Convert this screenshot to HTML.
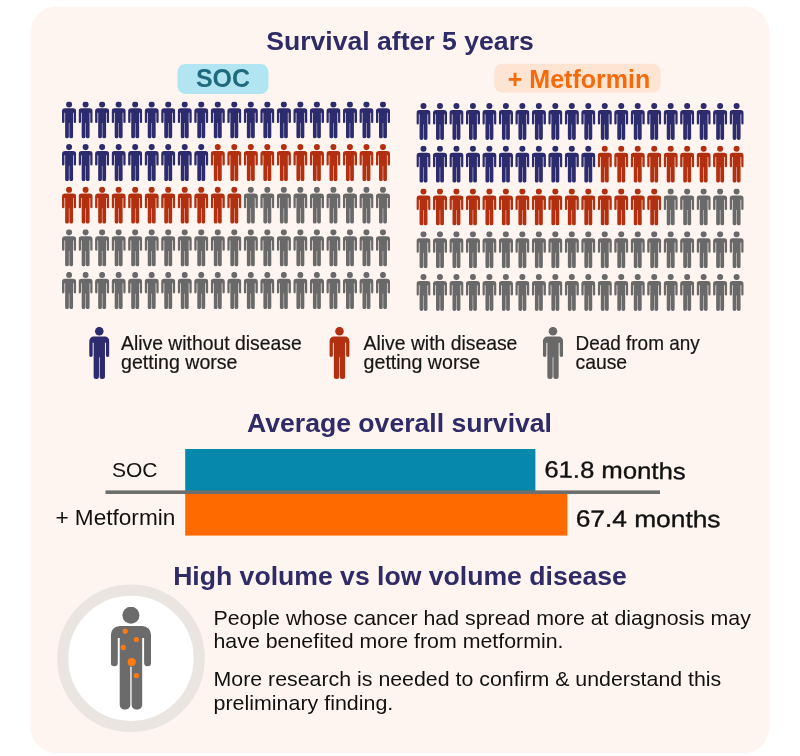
<!DOCTYPE html>
<html lang="en">
<head>
<meta charset="utf-8">
<title>Survival after 5 years</title>
<style>
html,body{margin:0;padding:0;background:#fff;}
body{width:800px;height:756px;overflow:hidden;font-family:"Liberation Sans",sans-serif;}
svg{display:block;}
text{font-family:"Liberation Sans",sans-serif;}
.h{font-weight:bold;font-size:26.6px;fill:#2e2b66;}
.lg{font-size:19.35px;fill:#161616;stroke:#161616;stroke-width:0.2px;}
.bl{font-size:21px;fill:#111;}
.pp{font-size:20.6px;fill:#111;}
</style>
</head>
<body>
<svg width="800" height="756" viewBox="0 0 800 756">
<defs>
<symbol id="p" viewBox="0 0 40.3 103.1" preserveAspectRatio="none">
<circle cx="20.1" cy="8.5" r="8.5"/>
<path d="M0 28.2A9 9 0 0 1 9 19.2H31.3A9 9 0 0 1 40.3 28.2V56.1A3.5 3.5 0 0 1 33.3 56.1V31.3H7V56.1A3.5 3.5 0 0 1 0 56.1Z"/>
<path d="M8.9 25H31.4V98.1A5 5 0 0 1 26.4 103.1H25.8A5 5 0 0 1 20.8 98.1V60H19.5V98.1A5 5 0 0 1 14.5 103.1H13.9A5 5 0 0 1 8.9 98.1Z"/>
</symbol>
</defs>
<rect x="30.4" y="6.5" width="739.1" height="746.5" rx="25.5" ry="25.5" fill="#fff5f0"/>

<text class="h" x="400" y="50" text-anchor="middle">Survival after 5 years</text>

<rect x="177.5" y="64" width="91" height="30" rx="8" fill="#b2e5f2"/>
<text x="223" y="87" text-anchor="middle" font-weight="bold" font-size="25" fill="#1f6a7d">SOC</text>
<rect x="494.3" y="63.8" width="166.2" height="28.8" rx="8" fill="#fde4d3"/>
<text x="579" y="87.5" text-anchor="middle" font-weight="bold" font-size="25" fill="#f56a0a">+ Metformin</text>

<g transform="translate(62 101.4) rotate(0)">
<use href="#p" x="0.00" y="0.00" width="14.2" height="37.2" fill="#2b2b6e"/>
<use href="#p" x="16.52" y="0.00" width="14.2" height="37.2" fill="#2b2b6e"/>
<use href="#p" x="33.04" y="0.00" width="14.2" height="37.2" fill="#2b2b6e"/>
<use href="#p" x="49.56" y="0.00" width="14.2" height="37.2" fill="#2b2b6e"/>
<use href="#p" x="66.08" y="0.00" width="14.2" height="37.2" fill="#2b2b6e"/>
<use href="#p" x="82.60" y="0.00" width="14.2" height="37.2" fill="#2b2b6e"/>
<use href="#p" x="99.12" y="0.00" width="14.2" height="37.2" fill="#2b2b6e"/>
<use href="#p" x="115.64" y="0.00" width="14.2" height="37.2" fill="#2b2b6e"/>
<use href="#p" x="132.16" y="0.00" width="14.2" height="37.2" fill="#2b2b6e"/>
<use href="#p" x="148.68" y="0.00" width="14.2" height="37.2" fill="#2b2b6e"/>
<use href="#p" x="165.20" y="0.00" width="14.2" height="37.2" fill="#2b2b6e"/>
<use href="#p" x="181.72" y="0.00" width="14.2" height="37.2" fill="#2b2b6e"/>
<use href="#p" x="198.24" y="0.00" width="14.2" height="37.2" fill="#2b2b6e"/>
<use href="#p" x="214.76" y="0.00" width="14.2" height="37.2" fill="#2b2b6e"/>
<use href="#p" x="231.28" y="0.00" width="14.2" height="37.2" fill="#2b2b6e"/>
<use href="#p" x="247.80" y="0.00" width="14.2" height="37.2" fill="#2b2b6e"/>
<use href="#p" x="264.32" y="0.00" width="14.2" height="37.2" fill="#2b2b6e"/>
<use href="#p" x="280.84" y="0.00" width="14.2" height="37.2" fill="#2b2b6e"/>
<use href="#p" x="297.36" y="0.00" width="14.2" height="37.2" fill="#2b2b6e"/>
<use href="#p" x="313.88" y="0.00" width="14.2" height="37.2" fill="#2b2b6e"/>
<use href="#p" x="0.00" y="42.62" width="14.2" height="37.2" fill="#2b2b6e"/>
<use href="#p" x="16.52" y="42.62" width="14.2" height="37.2" fill="#2b2b6e"/>
<use href="#p" x="33.04" y="42.62" width="14.2" height="37.2" fill="#2b2b6e"/>
<use href="#p" x="49.56" y="42.62" width="14.2" height="37.2" fill="#2b2b6e"/>
<use href="#p" x="66.08" y="42.62" width="14.2" height="37.2" fill="#2b2b6e"/>
<use href="#p" x="82.60" y="42.62" width="14.2" height="37.2" fill="#2b2b6e"/>
<use href="#p" x="99.12" y="42.62" width="14.2" height="37.2" fill="#2b2b6e"/>
<use href="#p" x="115.64" y="42.62" width="14.2" height="37.2" fill="#2b2b6e"/>
<use href="#p" x="132.16" y="42.62" width="14.2" height="37.2" fill="#2b2b6e"/>
<use href="#p" x="148.68" y="42.62" width="14.2" height="37.2" fill="#b2300f"/>
<use href="#p" x="165.20" y="42.62" width="14.2" height="37.2" fill="#b2300f"/>
<use href="#p" x="181.72" y="42.62" width="14.2" height="37.2" fill="#b2300f"/>
<use href="#p" x="198.24" y="42.62" width="14.2" height="37.2" fill="#b2300f"/>
<use href="#p" x="214.76" y="42.62" width="14.2" height="37.2" fill="#b2300f"/>
<use href="#p" x="231.28" y="42.62" width="14.2" height="37.2" fill="#b2300f"/>
<use href="#p" x="247.80" y="42.62" width="14.2" height="37.2" fill="#b2300f"/>
<use href="#p" x="264.32" y="42.62" width="14.2" height="37.2" fill="#b2300f"/>
<use href="#p" x="280.84" y="42.62" width="14.2" height="37.2" fill="#b2300f"/>
<use href="#p" x="297.36" y="42.62" width="14.2" height="37.2" fill="#b2300f"/>
<use href="#p" x="313.88" y="42.62" width="14.2" height="37.2" fill="#b2300f"/>
<use href="#p" x="0.00" y="85.24" width="14.2" height="37.2" fill="#b2300f"/>
<use href="#p" x="16.52" y="85.24" width="14.2" height="37.2" fill="#b2300f"/>
<use href="#p" x="33.04" y="85.24" width="14.2" height="37.2" fill="#b2300f"/>
<use href="#p" x="49.56" y="85.24" width="14.2" height="37.2" fill="#b2300f"/>
<use href="#p" x="66.08" y="85.24" width="14.2" height="37.2" fill="#b2300f"/>
<use href="#p" x="82.60" y="85.24" width="14.2" height="37.2" fill="#b2300f"/>
<use href="#p" x="99.12" y="85.24" width="14.2" height="37.2" fill="#b2300f"/>
<use href="#p" x="115.64" y="85.24" width="14.2" height="37.2" fill="#b2300f"/>
<use href="#p" x="132.16" y="85.24" width="14.2" height="37.2" fill="#b2300f"/>
<use href="#p" x="148.68" y="85.24" width="14.2" height="37.2" fill="#b2300f"/>
<use href="#p" x="165.20" y="85.24" width="14.2" height="37.2" fill="#b2300f"/>
<use href="#p" x="181.72" y="85.24" width="14.2" height="37.2" fill="#6a6969"/>
<use href="#p" x="198.24" y="85.24" width="14.2" height="37.2" fill="#6a6969"/>
<use href="#p" x="214.76" y="85.24" width="14.2" height="37.2" fill="#6a6969"/>
<use href="#p" x="231.28" y="85.24" width="14.2" height="37.2" fill="#6a6969"/>
<use href="#p" x="247.80" y="85.24" width="14.2" height="37.2" fill="#6a6969"/>
<use href="#p" x="264.32" y="85.24" width="14.2" height="37.2" fill="#6a6969"/>
<use href="#p" x="280.84" y="85.24" width="14.2" height="37.2" fill="#6a6969"/>
<use href="#p" x="297.36" y="85.24" width="14.2" height="37.2" fill="#6a6969"/>
<use href="#p" x="313.88" y="85.24" width="14.2" height="37.2" fill="#6a6969"/>
<use href="#p" x="0.00" y="127.86" width="14.2" height="37.2" fill="#6a6969"/>
<use href="#p" x="16.52" y="127.86" width="14.2" height="37.2" fill="#6a6969"/>
<use href="#p" x="33.04" y="127.86" width="14.2" height="37.2" fill="#6a6969"/>
<use href="#p" x="49.56" y="127.86" width="14.2" height="37.2" fill="#6a6969"/>
<use href="#p" x="66.08" y="127.86" width="14.2" height="37.2" fill="#6a6969"/>
<use href="#p" x="82.60" y="127.86" width="14.2" height="37.2" fill="#6a6969"/>
<use href="#p" x="99.12" y="127.86" width="14.2" height="37.2" fill="#6a6969"/>
<use href="#p" x="115.64" y="127.86" width="14.2" height="37.2" fill="#6a6969"/>
<use href="#p" x="132.16" y="127.86" width="14.2" height="37.2" fill="#6a6969"/>
<use href="#p" x="148.68" y="127.86" width="14.2" height="37.2" fill="#6a6969"/>
<use href="#p" x="165.20" y="127.86" width="14.2" height="37.2" fill="#6a6969"/>
<use href="#p" x="181.72" y="127.86" width="14.2" height="37.2" fill="#6a6969"/>
<use href="#p" x="198.24" y="127.86" width="14.2" height="37.2" fill="#6a6969"/>
<use href="#p" x="214.76" y="127.86" width="14.2" height="37.2" fill="#6a6969"/>
<use href="#p" x="231.28" y="127.86" width="14.2" height="37.2" fill="#6a6969"/>
<use href="#p" x="247.80" y="127.86" width="14.2" height="37.2" fill="#6a6969"/>
<use href="#p" x="264.32" y="127.86" width="14.2" height="37.2" fill="#6a6969"/>
<use href="#p" x="280.84" y="127.86" width="14.2" height="37.2" fill="#6a6969"/>
<use href="#p" x="297.36" y="127.86" width="14.2" height="37.2" fill="#6a6969"/>
<use href="#p" x="313.88" y="127.86" width="14.2" height="37.2" fill="#6a6969"/>
<use href="#p" x="0.00" y="170.48" width="14.2" height="37.2" fill="#6a6969"/>
<use href="#p" x="16.52" y="170.48" width="14.2" height="37.2" fill="#6a6969"/>
<use href="#p" x="33.04" y="170.48" width="14.2" height="37.2" fill="#6a6969"/>
<use href="#p" x="49.56" y="170.48" width="14.2" height="37.2" fill="#6a6969"/>
<use href="#p" x="66.08" y="170.48" width="14.2" height="37.2" fill="#6a6969"/>
<use href="#p" x="82.60" y="170.48" width="14.2" height="37.2" fill="#6a6969"/>
<use href="#p" x="99.12" y="170.48" width="14.2" height="37.2" fill="#6a6969"/>
<use href="#p" x="115.64" y="170.48" width="14.2" height="37.2" fill="#6a6969"/>
<use href="#p" x="132.16" y="170.48" width="14.2" height="37.2" fill="#6a6969"/>
<use href="#p" x="148.68" y="170.48" width="14.2" height="37.2" fill="#6a6969"/>
<use href="#p" x="165.20" y="170.48" width="14.2" height="37.2" fill="#6a6969"/>
<use href="#p" x="181.72" y="170.48" width="14.2" height="37.2" fill="#6a6969"/>
<use href="#p" x="198.24" y="170.48" width="14.2" height="37.2" fill="#6a6969"/>
<use href="#p" x="214.76" y="170.48" width="14.2" height="37.2" fill="#6a6969"/>
<use href="#p" x="231.28" y="170.48" width="14.2" height="37.2" fill="#6a6969"/>
<use href="#p" x="247.80" y="170.48" width="14.2" height="37.2" fill="#6a6969"/>
<use href="#p" x="264.32" y="170.48" width="14.2" height="37.2" fill="#6a6969"/>
<use href="#p" x="280.84" y="170.48" width="14.2" height="37.2" fill="#6a6969"/>
<use href="#p" x="297.36" y="170.48" width="14.2" height="37.2" fill="#6a6969"/>
<use href="#p" x="313.88" y="170.48" width="14.2" height="37.2" fill="#6a6969"/>
</g>
<g transform="translate(416.4 103.0) rotate(0)">
<use href="#p" x="0.00" y="0.00" width="14.2" height="37.0" fill="#2b2b6e"/>
<use href="#p" x="16.48" y="0.00" width="14.2" height="37.0" fill="#2b2b6e"/>
<use href="#p" x="32.96" y="0.00" width="14.2" height="37.0" fill="#2b2b6e"/>
<use href="#p" x="49.44" y="0.00" width="14.2" height="37.0" fill="#2b2b6e"/>
<use href="#p" x="65.92" y="0.00" width="14.2" height="37.0" fill="#2b2b6e"/>
<use href="#p" x="82.40" y="0.00" width="14.2" height="37.0" fill="#2b2b6e"/>
<use href="#p" x="98.88" y="0.00" width="14.2" height="37.0" fill="#2b2b6e"/>
<use href="#p" x="115.36" y="0.00" width="14.2" height="37.0" fill="#2b2b6e"/>
<use href="#p" x="131.84" y="0.00" width="14.2" height="37.0" fill="#2b2b6e"/>
<use href="#p" x="148.32" y="0.00" width="14.2" height="37.0" fill="#2b2b6e"/>
<use href="#p" x="164.80" y="0.00" width="14.2" height="37.0" fill="#2b2b6e"/>
<use href="#p" x="181.28" y="0.00" width="14.2" height="37.0" fill="#2b2b6e"/>
<use href="#p" x="197.76" y="0.00" width="14.2" height="37.0" fill="#2b2b6e"/>
<use href="#p" x="214.24" y="0.00" width="14.2" height="37.0" fill="#2b2b6e"/>
<use href="#p" x="230.72" y="0.00" width="14.2" height="37.0" fill="#2b2b6e"/>
<use href="#p" x="247.20" y="0.00" width="14.2" height="37.0" fill="#2b2b6e"/>
<use href="#p" x="263.68" y="0.00" width="14.2" height="37.0" fill="#2b2b6e"/>
<use href="#p" x="280.16" y="0.00" width="14.2" height="37.0" fill="#2b2b6e"/>
<use href="#p" x="296.64" y="0.00" width="14.2" height="37.0" fill="#2b2b6e"/>
<use href="#p" x="313.12" y="0.00" width="14.2" height="37.0" fill="#2b2b6e"/>
<use href="#p" x="0.00" y="42.75" width="14.2" height="37.0" fill="#2b2b6e"/>
<use href="#p" x="16.48" y="42.75" width="14.2" height="37.0" fill="#2b2b6e"/>
<use href="#p" x="32.96" y="42.75" width="14.2" height="37.0" fill="#2b2b6e"/>
<use href="#p" x="49.44" y="42.75" width="14.2" height="37.0" fill="#2b2b6e"/>
<use href="#p" x="65.92" y="42.75" width="14.2" height="37.0" fill="#2b2b6e"/>
<use href="#p" x="82.40" y="42.75" width="14.2" height="37.0" fill="#2b2b6e"/>
<use href="#p" x="98.88" y="42.75" width="14.2" height="37.0" fill="#2b2b6e"/>
<use href="#p" x="115.36" y="42.75" width="14.2" height="37.0" fill="#2b2b6e"/>
<use href="#p" x="131.84" y="42.75" width="14.2" height="37.0" fill="#2b2b6e"/>
<use href="#p" x="148.32" y="42.75" width="14.2" height="37.0" fill="#2b2b6e"/>
<use href="#p" x="164.80" y="42.75" width="14.2" height="37.0" fill="#2b2b6e"/>
<use href="#p" x="181.28" y="42.75" width="14.2" height="37.0" fill="#b2300f"/>
<use href="#p" x="197.76" y="42.75" width="14.2" height="37.0" fill="#b2300f"/>
<use href="#p" x="214.24" y="42.75" width="14.2" height="37.0" fill="#b2300f"/>
<use href="#p" x="230.72" y="42.75" width="14.2" height="37.0" fill="#b2300f"/>
<use href="#p" x="247.20" y="42.75" width="14.2" height="37.0" fill="#b2300f"/>
<use href="#p" x="263.68" y="42.75" width="14.2" height="37.0" fill="#b2300f"/>
<use href="#p" x="280.16" y="42.75" width="14.2" height="37.0" fill="#b2300f"/>
<use href="#p" x="296.64" y="42.75" width="14.2" height="37.0" fill="#b2300f"/>
<use href="#p" x="313.12" y="42.75" width="14.2" height="37.0" fill="#b2300f"/>
<use href="#p" x="0.00" y="85.50" width="14.2" height="37.0" fill="#b2300f"/>
<use href="#p" x="16.48" y="85.50" width="14.2" height="37.0" fill="#b2300f"/>
<use href="#p" x="32.96" y="85.50" width="14.2" height="37.0" fill="#b2300f"/>
<use href="#p" x="49.44" y="85.50" width="14.2" height="37.0" fill="#b2300f"/>
<use href="#p" x="65.92" y="85.50" width="14.2" height="37.0" fill="#b2300f"/>
<use href="#p" x="82.40" y="85.50" width="14.2" height="37.0" fill="#b2300f"/>
<use href="#p" x="98.88" y="85.50" width="14.2" height="37.0" fill="#b2300f"/>
<use href="#p" x="115.36" y="85.50" width="14.2" height="37.0" fill="#b2300f"/>
<use href="#p" x="131.84" y="85.50" width="14.2" height="37.0" fill="#b2300f"/>
<use href="#p" x="148.32" y="85.50" width="14.2" height="37.0" fill="#b2300f"/>
<use href="#p" x="164.80" y="85.50" width="14.2" height="37.0" fill="#b2300f"/>
<use href="#p" x="181.28" y="85.50" width="14.2" height="37.0" fill="#b2300f"/>
<use href="#p" x="197.76" y="85.50" width="14.2" height="37.0" fill="#b2300f"/>
<use href="#p" x="214.24" y="85.50" width="14.2" height="37.0" fill="#b2300f"/>
<use href="#p" x="230.72" y="85.50" width="14.2" height="37.0" fill="#b2300f"/>
<use href="#p" x="247.20" y="85.50" width="14.2" height="37.0" fill="#6a6969"/>
<use href="#p" x="263.68" y="85.50" width="14.2" height="37.0" fill="#6a6969"/>
<use href="#p" x="280.16" y="85.50" width="14.2" height="37.0" fill="#6a6969"/>
<use href="#p" x="296.64" y="85.50" width="14.2" height="37.0" fill="#6a6969"/>
<use href="#p" x="313.12" y="85.50" width="14.2" height="37.0" fill="#6a6969"/>
<use href="#p" x="0.00" y="128.25" width="14.2" height="37.0" fill="#6a6969"/>
<use href="#p" x="16.48" y="128.25" width="14.2" height="37.0" fill="#6a6969"/>
<use href="#p" x="32.96" y="128.25" width="14.2" height="37.0" fill="#6a6969"/>
<use href="#p" x="49.44" y="128.25" width="14.2" height="37.0" fill="#6a6969"/>
<use href="#p" x="65.92" y="128.25" width="14.2" height="37.0" fill="#6a6969"/>
<use href="#p" x="82.40" y="128.25" width="14.2" height="37.0" fill="#6a6969"/>
<use href="#p" x="98.88" y="128.25" width="14.2" height="37.0" fill="#6a6969"/>
<use href="#p" x="115.36" y="128.25" width="14.2" height="37.0" fill="#6a6969"/>
<use href="#p" x="131.84" y="128.25" width="14.2" height="37.0" fill="#6a6969"/>
<use href="#p" x="148.32" y="128.25" width="14.2" height="37.0" fill="#6a6969"/>
<use href="#p" x="164.80" y="128.25" width="14.2" height="37.0" fill="#6a6969"/>
<use href="#p" x="181.28" y="128.25" width="14.2" height="37.0" fill="#6a6969"/>
<use href="#p" x="197.76" y="128.25" width="14.2" height="37.0" fill="#6a6969"/>
<use href="#p" x="214.24" y="128.25" width="14.2" height="37.0" fill="#6a6969"/>
<use href="#p" x="230.72" y="128.25" width="14.2" height="37.0" fill="#6a6969"/>
<use href="#p" x="247.20" y="128.25" width="14.2" height="37.0" fill="#6a6969"/>
<use href="#p" x="263.68" y="128.25" width="14.2" height="37.0" fill="#6a6969"/>
<use href="#p" x="280.16" y="128.25" width="14.2" height="37.0" fill="#6a6969"/>
<use href="#p" x="296.64" y="128.25" width="14.2" height="37.0" fill="#6a6969"/>
<use href="#p" x="313.12" y="128.25" width="14.2" height="37.0" fill="#6a6969"/>
<use href="#p" x="0.00" y="171.00" width="14.2" height="37.0" fill="#6a6969"/>
<use href="#p" x="16.48" y="171.00" width="14.2" height="37.0" fill="#6a6969"/>
<use href="#p" x="32.96" y="171.00" width="14.2" height="37.0" fill="#6a6969"/>
<use href="#p" x="49.44" y="171.00" width="14.2" height="37.0" fill="#6a6969"/>
<use href="#p" x="65.92" y="171.00" width="14.2" height="37.0" fill="#6a6969"/>
<use href="#p" x="82.40" y="171.00" width="14.2" height="37.0" fill="#6a6969"/>
<use href="#p" x="98.88" y="171.00" width="14.2" height="37.0" fill="#6a6969"/>
<use href="#p" x="115.36" y="171.00" width="14.2" height="37.0" fill="#6a6969"/>
<use href="#p" x="131.84" y="171.00" width="14.2" height="37.0" fill="#6a6969"/>
<use href="#p" x="148.32" y="171.00" width="14.2" height="37.0" fill="#6a6969"/>
<use href="#p" x="164.80" y="171.00" width="14.2" height="37.0" fill="#6a6969"/>
<use href="#p" x="181.28" y="171.00" width="14.2" height="37.0" fill="#6a6969"/>
<use href="#p" x="197.76" y="171.00" width="14.2" height="37.0" fill="#6a6969"/>
<use href="#p" x="214.24" y="171.00" width="14.2" height="37.0" fill="#6a6969"/>
<use href="#p" x="230.72" y="171.00" width="14.2" height="37.0" fill="#6a6969"/>
<use href="#p" x="247.20" y="171.00" width="14.2" height="37.0" fill="#6a6969"/>
<use href="#p" x="263.68" y="171.00" width="14.2" height="37.0" fill="#6a6969"/>
<use href="#p" x="280.16" y="171.00" width="14.2" height="37.0" fill="#6a6969"/>
<use href="#p" x="296.64" y="171.00" width="14.2" height="37.0" fill="#6a6969"/>
<use href="#p" x="313.12" y="171.00" width="14.2" height="37.0" fill="#6a6969"/>
</g>

<use href="#p" x="89.15" y="326.9" width="20.3" height="52.1" fill="#2b2b6e"/>
<text class="lg" x="121" y="350.2">Alive without disease</text>
<text class="lg" x="121" y="369.4" textLength="116.5" lengthAdjust="spacingAndGlyphs">getting worse</text>
<use href="#p" x="329.35" y="326.9" width="20.3" height="52.1" fill="#b2300f"/>
<text class="lg" x="363.6" y="350.2">Alive with disease</text>
<text class="lg" x="363.6" y="369.4" textLength="116.5" lengthAdjust="spacingAndGlyphs">getting worse</text>
<use href="#p" x="542.85" y="326.9" width="20.3" height="52.1" fill="#6a6969"/>
<text class="lg" x="575.5" y="350.2" textLength="124.2" lengthAdjust="spacingAndGlyphs">Dead from any</text>
<text class="lg" x="575.5" y="369.4">cause</text>

<text class="h" x="399.5" y="432" text-anchor="middle">Average overall survival</text>

<rect x="185.2" y="449" width="350.2" height="43" fill="#0588ac"/>
<rect x="185.2" y="492" width="382.2" height="43.6" fill="#ff6a00"/>
<rect x="105.5" y="490.4" width="554.5" height="3.6" fill="#6e6e6e"/>
<text class="bl" x="112" y="477">SOC</text>
<text class="bl" x="55.4" y="524.7" style="font-size:22.6px">+ Metformin</text>
<text x="544.2" y="477.2" font-size="23.3" fill="#111" stroke="#111" stroke-width="0.35" textLength="141.4" lengthAdjust="spacingAndGlyphs" transform="rotate(0.9 544 477)">61.8 months</text>
<text x="575.7" y="526.6" font-size="23.3" fill="#111" stroke="#111" stroke-width="0.35" textLength="144.8" lengthAdjust="spacingAndGlyphs" transform="rotate(0.3 575 527)">67.4 months</text>

<text class="h" x="400" y="585" text-anchor="middle">High volume vs low volume disease</text>

<circle cx="131" cy="658.3" r="68.2" fill="#fff" stroke="#ebe5e2" stroke-width="11.2"/>
<use href="#p" x="110.8" y="606.7" width="40.3" height="103.1" fill="#6b6b6b"/>
<g fill="#ff7a12">
<circle cx="125.2" cy="631.2" r="2.6"/>
<circle cx="136.4" cy="639.5" r="2.6"/>
<circle cx="123.3" cy="647.4" r="2.6"/>
<circle cx="131.7" cy="662.1" r="4.1"/>
<circle cx="136.4" cy="675.5" r="2.6"/>
</g>

<text class="pp" x="213.5" y="624.5" textLength="537.4" lengthAdjust="spacingAndGlyphs">People whose cancer had spread more at diagnosis may</text>
<text class="pp" x="213.5" y="647.7" textLength="350" lengthAdjust="spacingAndGlyphs">have benefited more from metformin.</text>
<text class="pp" x="213.5" y="686.2" textLength="507.8" lengthAdjust="spacingAndGlyphs">More research is needed to confirm &amp; understand this</text>
<text class="pp" x="213.5" y="709.5" textLength="179.8" lengthAdjust="spacingAndGlyphs">preliminary finding.</text>
</svg>
</body>
</html>
